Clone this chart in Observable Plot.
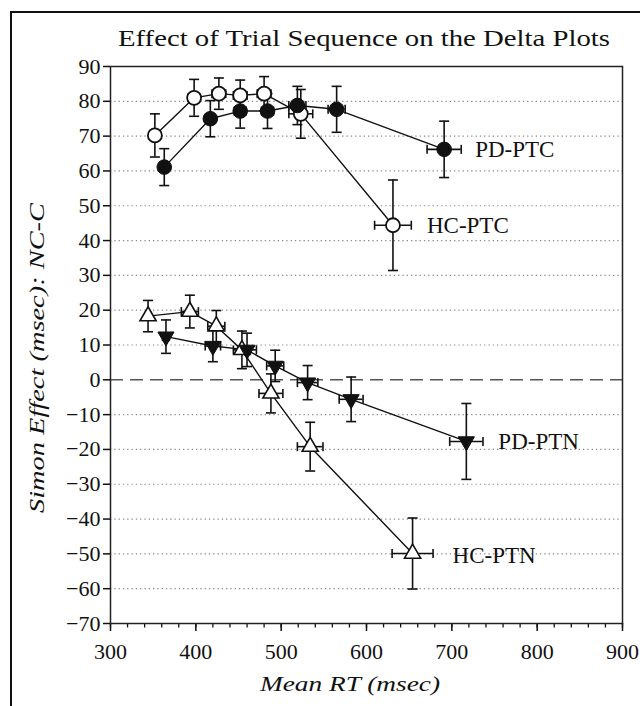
<!DOCTYPE html>
<html>
<head>
<meta charset="utf-8">
<script src="https://cdn.jsdelivr.net/npm/d3@7"></script>
<script src="https://cdn.jsdelivr.net/npm/@observablehq/plot@0.6"></script>
<style>
  html, body { margin: 0; padding: 0; background: white; }
  #wrap { position: relative; width: 640px; height: 706px; overflow: hidden; background: white; }
  #outer { position: absolute; left: 10px; top: 11px; width: 800px; height: 900px;
           border-left: 2.5px solid #111; border-top: 2.5px solid #111; box-sizing: border-box; }
  .lbl { position: absolute; white-space: nowrap; line-height: 1; color: #111;
         font-family: 'Liberation Serif', 'Times New Roman', serif; }
  #title { left: 364px; top: 28px; font-size: 22.5px; }
  #xlabel { left: 350px; top: 673px; font-size: 22px; font-style: italic; }
  #ylabel { left: 37px; top: 358px; font-size: 22px; font-style: italic; }
  #chart { position: absolute; left: 0; top: 0; }
</style>
</head>
<body>
<div id="wrap">
  <div id="outer"></div>
  <div id="chart"></div>
  <div id="title" class="lbl"></div>
  <div id="xlabel" class="lbl"></div>
  <div id="ylabel" class="lbl"></div>
</div>
<script>
// ---- data ----
const seriesNames = ["HC-PTC", "PD-PTC", "HC-PTN", "PD-PTN"];

const hcPtcX    = [352, 398, 427, 452, 480, 523, 631];
const hcPtcY    = [70.2, 81.0, 82.2, 81.7, 82.2, 76.4, 44.4];
const hcPtcXErr = [3, 7, 8, 8, 8, 14, 21.5];
const hcPtcYErr = [6.2, 5.3, 4.5, 4.4, 4.9, 7.0, 13.0];

const pdPtcX    = [363, 417, 452, 484, 519, 565, 691];
const pdPtcY    = [61.1, 75.0, 77.2, 77.2, 78.8, 77.7, 66.2];
const pdPtcXErr = [3, 5, 7, 7, 10, 10, 20];
const pdPtcYErr = [5.3, 5.2, 4.9, 5.0, 5.5, 6.6, 8.1];

const hcPtnX    = [344, 393, 424, 454, 488, 534, 654];
const hcPtnY    = [18.3, 19.6, 15.4, 8.6, -3.9, -19.2, -49.9];
const hcPtnXErr = [3, 10, 10, 10, 14, 15, 24];
const hcPtnYErr = [4.5, 4.7, 4.5, 5.4, 5.6, 7.0, 10.2];

const pdPtnX    = [365, 420, 460, 493, 531, 582, 717];
const pdPtnY    = [12.4, 9.7, 8.6, 4.0, -0.8, -5.6, -17.7];
const pdPtnXErr = [4, 9, 11, 10, 12, 14, 19.5];
const pdPtnYErr = [4.8, 4.5, 4.8, 4.5, 4.9, 6.4, 10.9];

const xTicks = [300, 400, 500, 600, 700, 800, 900];
const xMinorTicks = d3.range(300, 901, 20);
const yTicks = [-70, -60, -50, -40, -30, -20, -10, 0, 10, 20, 30, 40, 50, 60, 70, 80, 90];
const yGrid = [-60, -50, -40, -30, -20, -10, 10, 20, 30, 40, 50, 60, 70, 80];

const titleText = "Effect of Trial Sequence on the Delta Plots";
const xLabel = "Mean RT (msec)";
const yLabel = "Simon Effect (msec): NC-C";

// ---- build rows ----
function rows(name, xs, ys, xe, ye) {
  return xs.map((x, i) => ({series: name, x, y: ys[i], xe: xe[i], ye: ye[i]}));
}
const hcPtc = rows(seriesNames[0], hcPtcX, hcPtcY, hcPtcXErr, hcPtcYErr);
const pdPtc = rows(seriesNames[1], pdPtcX, pdPtcY, pdPtcXErr, pdPtcYErr);
const hcPtn = rows(seriesNames[2], hcPtnX, hcPtnY, hcPtnXErr, hcPtnYErr);
const pdPtn = rows(seriesNames[3], pdPtnX, pdPtnY, pdPtnXErr, pdPtnYErr);
const all = [...hcPtc, ...pdPtc, ...hcPtn, ...pdPtn];
const last = a => [a[a.length - 1]];

// ---- custom symbols ----
const hCap = {draw(ctx, size) { const w = Math.sqrt(size / Math.PI); ctx.moveTo(-w, 0); ctx.lineTo(w, 0); }};
const vCap = {draw(ctx, size) { const w = Math.sqrt(size / Math.PI); ctx.moveTo(0, -w); ctx.lineTo(0, w); }};
const triDown = {draw(ctx, size) {
  const s3 = Math.sqrt(3);
  const y = -Math.sqrt(size / (s3 * 3));
  ctx.moveTo(0, -y * 2); ctx.lineTo(-s3 * y, y); ctx.lineTo(s3 * y, y); ctx.closePath();
}};

const FONT = "'Liberation Serif', 'Times New Roman', serif";

const chart = Plot.plot({
  width: 640,
  height: 706,
  marginLeft: 110,
  marginRight: 18,
  marginTop: 66,
  marginBottom: 83,
  style: {fontFamily: FONT, fontSize: "22px", background: "transparent", color: "#111"},
  x: {domain: [300, 900]},
  y: {domain: [-70, 90]},
  marks: [
    Plot.gridY(yGrid, {stroke: "#8a8a8a", strokeOpacity: 1, strokeDasharray: "1.3,3", strokeWidth: 1.2}),
    Plot.ruleY([0], {stroke: "#555", strokeDasharray: "13,7", strokeWidth: 1.5}),
    Plot.axisY({ticks: yTicks, tickSize: 7, tickPadding: 3, label: null, fontSize: 22, strokeWidth: 1.5}),
    Plot.axisX({ticks: xMinorTicks, tickSize: 4.5, tickFormat: () => "", label: null, strokeWidth: 1.3}),
    Plot.axisX({ticks: xTicks, tickSize: 8, tickPadding: 12, label: null, fontSize: 22, strokeWidth: 1.5}),
    Plot.frame({stroke: "#222", strokeWidth: 1.5}),
    // connecting lines
    Plot.line(all, {x: "x", y: "y", z: "series", stroke: "#111", strokeWidth: 1.4}),
    // error bars
    Plot.ruleX(all, {x: "x", y1: d => d.y - d.ye, y2: d => d.y + d.ye, stroke: "#111", strokeWidth: 1.6}),
    Plot.ruleY(all, {y: "y", x1: d => d.x - d.xe, x2: d => d.x + d.xe, stroke: "#111", strokeWidth: 1.6}),
    Plot.dot(all, {x: "x", y: d => d.y - d.ye, symbol: hCap, r: 5, fill: "none", stroke: "#111", strokeWidth: 1.6}),
    Plot.dot(all, {x: "x", y: d => d.y + d.ye, symbol: hCap, r: 5, fill: "none", stroke: "#111", strokeWidth: 1.6}),
    Plot.dot(all, {x: d => d.x - d.xe, y: "y", symbol: vCap, r: 4.5, fill: "none", stroke: "#111", strokeWidth: 1.6}),
    Plot.dot(all, {x: d => d.x + d.xe, y: "y", symbol: vCap, r: 4.5, fill: "none", stroke: "#111", strokeWidth: 1.6}),
    // markers
    Plot.dot(hcPtc, {x: "x", y: "y", r: 7, fill: "white", stroke: "#111", strokeWidth: 1.8}),
    Plot.dot(pdPtc, {x: "x", y: "y", r: 7.3, fill: "#111", stroke: "#111", strokeWidth: 1}),
    Plot.dot(hcPtn, {x: "x", y: "y", symbol: "triangle", r: 6, fill: "white", stroke: "#111", strokeWidth: 1.6}),
    Plot.dot(pdPtn, {x: "x", y: "y", symbol: triDown, r: 6, fill: "#111", stroke: "#111", strokeWidth: 1}),
    // series labels
    Plot.text(last(pdPtc), {x: "x", y: "y", text: "series", textAnchor: "start", dx: 31, fontSize: 23, fill: "#111"}),
    Plot.text(last(hcPtc), {x: "x", y: "y", text: "series", textAnchor: "start", dx: 34, fontSize: 23, fill: "#111"}),
    Plot.text(last(pdPtn), {x: "x", y: "y", text: "series", textAnchor: "start", dx: 32, fontSize: 23, fill: "#111"}),
    Plot.text(last(hcPtn), {x: "x", y: "y", text: "series", textAnchor: "start", dx: 40, dy: 2, fontSize: 23, fill: "#111"})
  ]
});
document.getElementById("chart").appendChild(chart);

// HTML titles, widened to the reference's wide serif face
function place(id, text, targetWidth) {
  const el = document.getElementById(id);
  el.textContent = text;
  const w = el.getBoundingClientRect().width;
  el.style.transform = `translateX(-50%) scaleX(${targetWidth / w})`;
}
place("title", titleText, 492);
place("xlabel", xLabel, 180);
(function () {
  const el = document.getElementById("ylabel");
  el.textContent = yLabel;
  const w = el.getBoundingClientRect().width;
  el.style.transform = `translate(-50%, -50%) rotate(-90deg) scaleX(${310 / w})`;
})();
</script>
</body>
</html>
